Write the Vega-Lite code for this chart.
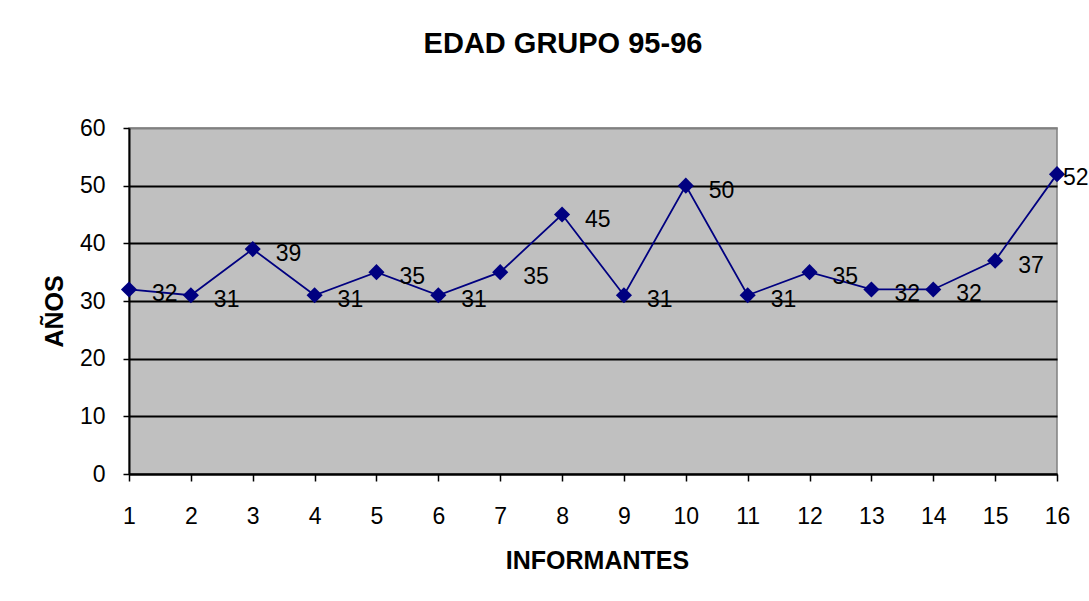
{
  "$schema": "https://vega.github.io/schema/vega-lite/v6.json",
  "width": 928,
  "height": 346,
  "autosize": {"type": "none"},
  "padding": {"left": 129, "top": 128, "right": 32, "bottom": 127},
  "background": "white",
  "config": {
    "font": "Liberation Sans",
    "view": {"fill": "#C0C0C0", "stroke": "#808080", "strokeWidth": 1.5}
  },
  "title": {
    "text": "EDAD GRUPO 95-96",
    "fontSize": 29,
    "fontWeight": "bold",
    "font": "Liberation Sans",
    "color": "black",
    "anchor": "middle",
    "frame": "group",
    "dx": -30,
    "offset": 35,
    "baseline": "alphabetic"
  },
  "data": {
    "values": [
      {"informante": 1, "edad": 32},
      {"informante": 2, "edad": 31},
      {"informante": 3, "edad": 39},
      {"informante": 4, "edad": 31},
      {"informante": 5, "edad": 35},
      {"informante": 6, "edad": 31},
      {"informante": 7, "edad": 35},
      {"informante": 8, "edad": 45},
      {"informante": 9, "edad": 31},
      {"informante": 10, "edad": 50},
      {"informante": 11, "edad": 31},
      {"informante": 12, "edad": 35},
      {"informante": 13, "edad": 32},
      {"informante": 14, "edad": 32},
      {"informante": 15, "edad": 37},
      {"informante": 16, "edad": 52}
    ]
  },
  "encoding": {
    "x": {
      "field": "informante",
      "type": "quantitative",
      "scale": {"domain": [1, 16], "nice": false, "zero": false},
      "axis": {
        "values": [1, 2, 3, 4, 5, 6, 7, 8, 9, 10, 11, 12, 13, 14, 15, 16],
        "format": "d",
        "grid": false,
        "domainColor": "black",
        "domainWidth": 2,
        "tickColor": "black",
        "tickSize": 7,
        "tickWidth": 1.5,
        "labelFontSize": 23,
        "labelColor": "black",
        "labelPadding": 24,
        "labelFlush": false,
        "labelOverlap": false,
        "title": "INFORMANTES",
        "titleFontSize": 25,
        "titleFontWeight": "bold",
        "titleColor": "black",
        "titleX": 468,
        "titleY": 94,
        "titleBaseline": "alphabetic"
      }
    },
    "y": {
      "field": "edad",
      "type": "quantitative",
      "scale": {"domain": [0, 60], "nice": false},
      "axis": {
        "values": [0, 10, 20, 30, 40, 50, 60],
        "grid": true,
        "gridColor": {"condition": {"test": "datum.value === 60", "value": "#808080"}, "value": "black"},
        "gridWidth": 2,
        "gridOpacity": 1,
        "domainColor": "black",
        "domainWidth": 2,
        "tickColor": "black",
        "tickSize": 6,
        "tickWidth": 1.5,
        "labelFontSize": 23,
        "labelColor": "black",
        "labelPadding": 18,
        "title": "AÑOS",
        "titleFontSize": 25,
        "titleFontWeight": "bold",
        "titleColor": "black",
        "titleX": -67,
        "titleY": 183,
        "titleBaseline": "alphabetic"
      }
    }
  },
  "layer": [
    {"mark": {"type": "line", "color": "#000080", "strokeWidth": 1.8}},
    {"mark": {"type": "point", "shape": "diamond", "filled": true, "size": 260, "color": "#000080", "opacity": 1}},
    {
      "transform": [{"filter": "datum.informante < 16"}],
      "mark": {"type": "text", "align": "left", "baseline": "alphabetic", "dx": 23, "dy": 12, "fontSize": 23, "color": "black"},
      "encoding": {"text": {"field": "edad", "type": "quantitative"}}
    },
    {
      "transform": [{"filter": "datum.informante == 16"}],
      "mark": {"type": "text", "align": "left", "baseline": "alphabetic", "dx": 6, "dy": 11, "fontSize": 23, "color": "black"},
      "encoding": {"text": {"field": "edad", "type": "quantitative"}}
    }
  ]
}
